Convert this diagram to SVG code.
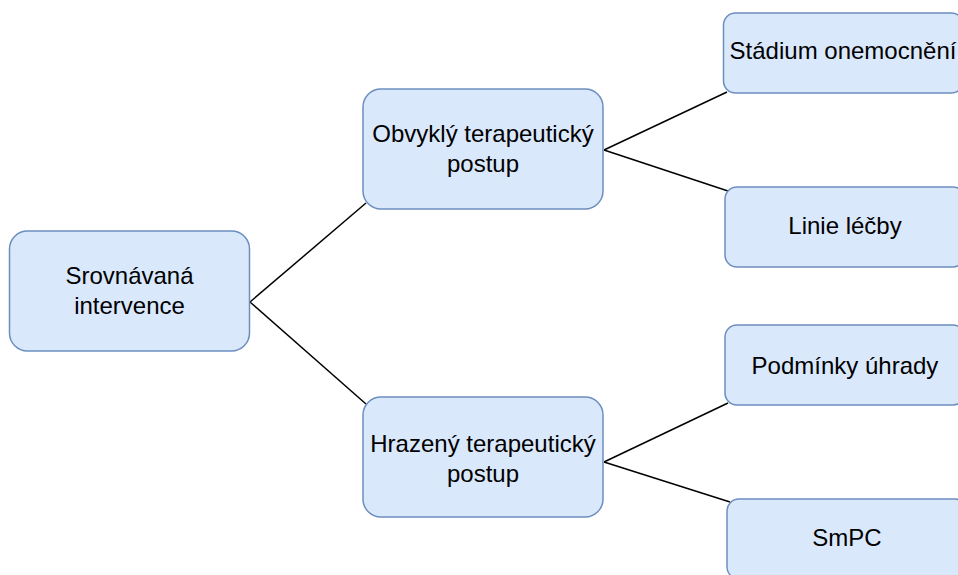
<svg xmlns="http://www.w3.org/2000/svg" width="958" height="575" viewBox="0 0 958 575">
<style>
.n{fill:#dae8fc;stroke:#6c8ebf;stroke-width:1.5}
.t{font-family:"Liberation Sans",Arial,sans-serif;font-size:24px;fill:#000;text-anchor:middle}
.c{stroke:#000;stroke-width:1.5;fill:none}
</style>
<rect width="958" height="575" fill="#fff"/>
<g id="connectors">
<path class="c" d="M250,302 L366,203"/>
<path class="c" d="M250,302 L366,404"/>
<path class="c" d="M604,150 L727,92"/>
<path class="c" d="M604,150 L728,191"/>
<path class="c" d="M604,462 L728,403"/>
<path class="c" d="M604,462 L730,502"/>
</g>
<g id="n1"><rect class="n" x="9.5" y="231" width="240" height="120" rx="18"/><text class="t" x="129.5" y="284">Srovnávaná</text><text class="t" x="129.5" y="314">intervence</text></g>
<g id="n2"><rect class="n" x="363" y="89" width="240" height="120" rx="18"/><text class="t" x="483" y="142">Obvyklý terapeutický</text><text class="t" x="483" y="172">postup</text></g>
<g id="n3"><rect class="n" x="363" y="397" width="240" height="120" rx="18"/><text class="t" x="483" y="452">Hrazený terapeutický</text><text class="t" x="483" y="482">postup</text></g>
<g id="n4"><rect class="n" x="723.5" y="13" width="240" height="80" rx="12"/><text class="t" x="843" y="59">Stádium onemocnění</text></g>
<g id="n5"><rect class="n" x="725" y="187" width="240" height="80" rx="12"/><text class="t" x="845" y="234">Linie léčby</text></g>
<g id="n6"><rect class="n" x="725" y="325" width="240" height="80" rx="12"/><text class="t" x="845" y="374">Podmínky úhrady</text></g>
<g id="n7"><rect class="n" x="727" y="499" width="240" height="80" rx="12"/><text class="t" x="847" y="546">SmPC</text></g>
</svg>
